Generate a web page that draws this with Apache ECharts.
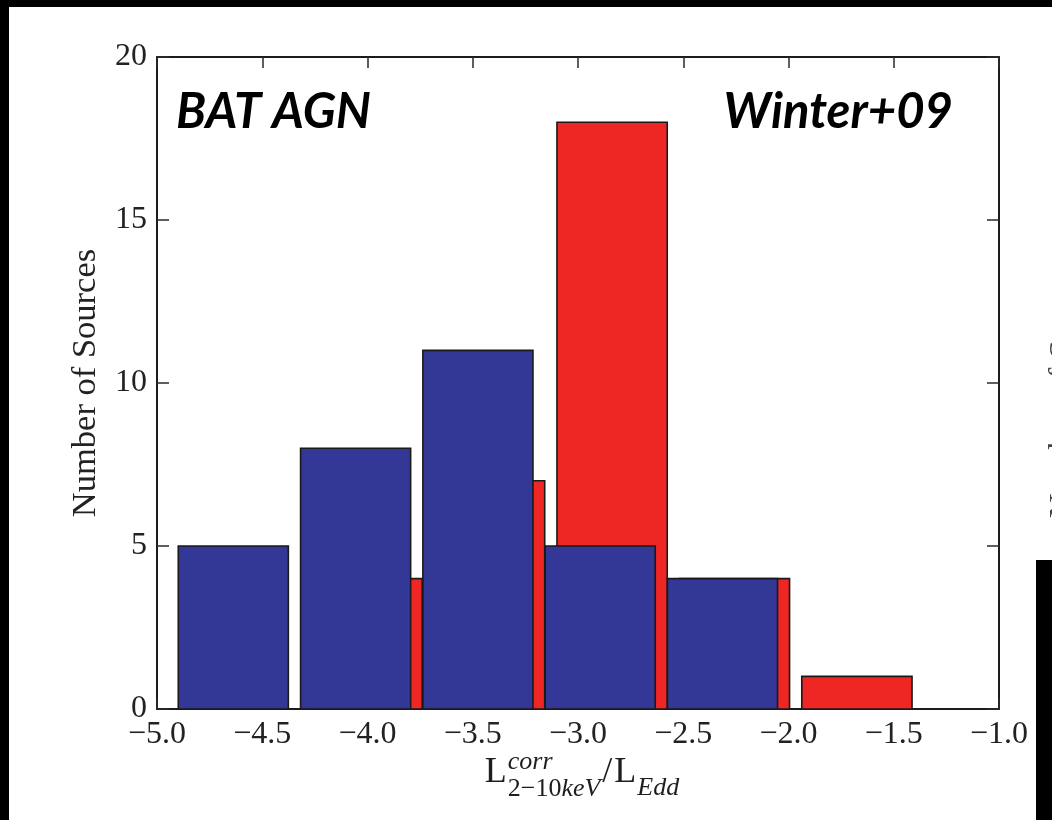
<!DOCTYPE html>
<html>
<head>
<meta charset="utf-8">
<title>BAT AGN — Eddington ratio histogram</title>
<script src="https://cdn.jsdelivr.net/npm/echarts@6/dist/echarts.min.js"></script>
<style>
  html, body { margin: 0; padding: 0; background: #ffffff; }
  #chart { width: 1052px; height: 820px; }
</style>
</head>
<body>
<div id="chart"></div>
<script>
// Histogram bins: edges (log L/L_Edd) and counts for each sample
const blueEdges  = [-4.928, -4.347, -3.766, -3.185, -2.604, -2.023];
const blueCounts = [5, 8, 11, 5, 4];
const redEdges   = [-4.293, -3.711, -3.129, -2.547, -1.966, -1.384];
const redCounts  = [4, 7, 18, 4, 1];

// Axis ranges and tick labels
const xTicks = [-5.0, -4.5, -4.0, -3.5, -3.0, -2.5, -2.0, -1.5, -1.0];
const yTicks = [0, 5, 10, 15, 20];

const SERIF = '"Liberation Serif", "DejaVu Serif", serif';
const SANS = 'Lato, "Liberation Sans", sans-serif';
const BLUE = '#333796';
const RED = '#ee2624';
const EDGE = '#1a1a1a';
const RWIDTH = 0.9; // fraction of each bin covered by its bar

function toRows(edges, counts) {
  return counts.map((c, i) => [edges[i], edges[i + 1], c]);
}

function renderBin(fill) {
  return function (params, api) {
    const lo = api.value(0), hi = api.value(1), n = api.value(2);
    const mid = (lo + hi) / 2, half = (hi - lo) * RWIDTH / 2;
    const p0 = api.coord([mid - half, n]);
    const p1 = api.coord([mid + half, 0]);
    return {
      type: 'rect',
      shape: { x: p0[0], y: p0[1], width: p1[0] - p0[0], height: p1[1] - p0[1] },
      style: { fill: fill, stroke: EDGE, lineWidth: 1.6 }
    };
  };
}

const fmtX = v => (v < 0 ? '\u2212' : '') + Math.abs(v).toFixed(1);

// text measuring for the composed axis title
const measCtx = document.createElement('canvas').getContext('2d');
function tw(txt, size, italic) {
  measCtx.font = (italic ? 'italic ' : '') + size + 'px ' + SERIF;
  return measCtx.measureText(txt).width;
}

function axisTitle(cx, baseline) {
  const M = 36, S = 26;
  const wL = tw('L', M);
  const wSubA = tw('2\u221210', S), wSubB = tw('keV', S, true);
  const wSup = tw('corr', S, true);
  const wScript = Math.max(wSubA + wSubB, wSup) + 2;
  const wSlash = tw('/', M) + 2;
  const wEdd = tw('Edd', S, true);
  const total = wL + 1 + wScript + wSlash + wL + 1 + wEdd;
  let x = cx - total / 2;
  const mid = (size, base) => base - 0.34 * size;
  const t = (text, px, size, base, italic) => ({
    type: 'text',
    x: px, y: mid(size, base),
    style: {
      text: text, fontSize: size, fontFamily: SERIF,
      fontStyle: italic ? 'italic' : 'normal',
      fill: '#1e1e1e', align: 'left', verticalAlign: 'middle'
    }
  });
  const out = [];
  out.push(t('L', x, M, baseline));
  x += wL + 1;
  out.push(t('corr', x, S, baseline - 14, true));
  out.push(t('2\u221210', x, S, baseline + 13));
  out.push(t('keV', x + wSubA, S, baseline + 13, true));
  x += wScript;
  out.push(t('/', x, M, baseline));
  x += wSlash;
  out.push(t('L', x, M, baseline));
  x += wL + 1;
  out.push(t('Edd', x, S, baseline + 12, true));
  return out;
}

const chart = echarts.init(document.getElementById('chart'), null, { renderer: 'canvas' });

const axisLineStyle = { color: '#1c1c1c', width: 2 };
const tickStyle = { color: '#2a2a2a', width: 1.5 };

chart.setOption({
  animation: false,
  backgroundColor: '#ffffff',
  grid: { left: 157, right: 53, top: 57, bottom: 111, containLabel: false },
  xAxis: [
    {
      type: 'value', position: 'bottom',
      min: xTicks[0], max: xTicks[xTicks.length - 1], interval: 0.5,
      axisLine: { show: true, onZero: false, lineStyle: axisLineStyle },
      axisTick: { show: true, inside: true, length: 11, lineStyle: tickStyle },
      axisLabel: {
        margin: 10, formatter: fmtX, color: '#222',
        fontFamily: SERIF, fontSize: 32
      },
      splitLine: { show: false }
    },
    {
      type: 'value', position: 'top',
      min: xTicks[0], max: xTicks[xTicks.length - 1], interval: 0.5,
      axisLine: { show: true, onZero: false, lineStyle: axisLineStyle },
      axisTick: { show: true, inside: true, length: 11, lineStyle: tickStyle },
      axisLabel: { show: false },
      splitLine: { show: false }
    }
  ],
  yAxis: [
    {
      type: 'value', position: 'left',
      min: yTicks[0], max: yTicks[yTicks.length - 1], interval: 5,
      axisLine: { show: true, onZero: false, lineStyle: axisLineStyle },
      axisTick: { show: true, inside: true, length: 12, lineStyle: tickStyle },
      axisLabel: {
        margin: 10, color: '#222', fontFamily: SERIF, fontSize: 32
      },
      splitLine: { show: false },
      name: 'Number of Sources', nameLocation: 'middle', nameGap: 54,
      nameRotate: 90,
      nameTextStyle: { fontFamily: SERIF, fontSize: 34.5, color: '#222' }
    },
    {
      type: 'value', position: 'right',
      min: yTicks[0], max: yTicks[yTicks.length - 1], interval: 5,
      axisLine: { show: true, onZero: false, lineStyle: axisLineStyle },
      axisTick: { show: true, inside: true, length: 12, lineStyle: tickStyle },
      axisLabel: { show: false },
      splitLine: { show: false }
    }
  ],
  series: [
    {
      name: 'red', type: 'custom', xAxisIndex: 0, yAxisIndex: 0, z: 2,
      renderItem: renderBin(RED),
      encode: { x: [0, 1], y: 2 },
      data: toRows(redEdges, redCounts)
    },
    {
      name: 'blue', type: 'custom', xAxisIndex: 0, yAxisIndex: 0, z: 3,
      renderItem: renderBin(BLUE),
      encode: { x: [0, 1], y: 2 },
      data: toRows(blueEdges, blueCounts)
    }
  ],
  graphic: [
    ...axisTitle(582, 785),
    {
      type: 'text', x: 176, y: 112,
      style: {
        text: 'BAT AGN', fontFamily: SANS, fontSize: 49,
        fontWeight: 'bold', fontStyle: 'italic',
        fill: '#000', align: 'left', verticalAlign: 'middle'
      }
    },
    {
      type: 'text', x: 953, y: 112,
      style: {
        text: 'Winter+09', fontFamily: SANS, fontSize: 49,
        fontWeight: 'bold', fontStyle: 'italic',
        fill: '#000', align: 'right', verticalAlign: 'middle'
      }
    },
    // neighbouring panel's y title, cut by the page edge
    {
      type: 'text', x: 1063, y: 384, rotation: Math.PI / 2,
      style: {
        text: 'Number of Sources', fontFamily: SERIF, fontSize: 34.5,
        fill: '#444', align: 'center', verticalAlign: 'middle'
      }
    },
    // dark frame around the panel
    { type: 'rect', shape: { x: 0, y: 0, width: 1052, height: 7 }, style: { fill: '#000' }, z: 100 },
    { type: 'rect', shape: { x: 0, y: 0, width: 9, height: 820 }, style: { fill: '#000' }, z: 100 },
    { type: 'rect', shape: { x: 1036, y: 560, width: 16, height: 260 }, style: { fill: '#000' }, z: 100 }
  ]
});
</script>
</body>
</html>
